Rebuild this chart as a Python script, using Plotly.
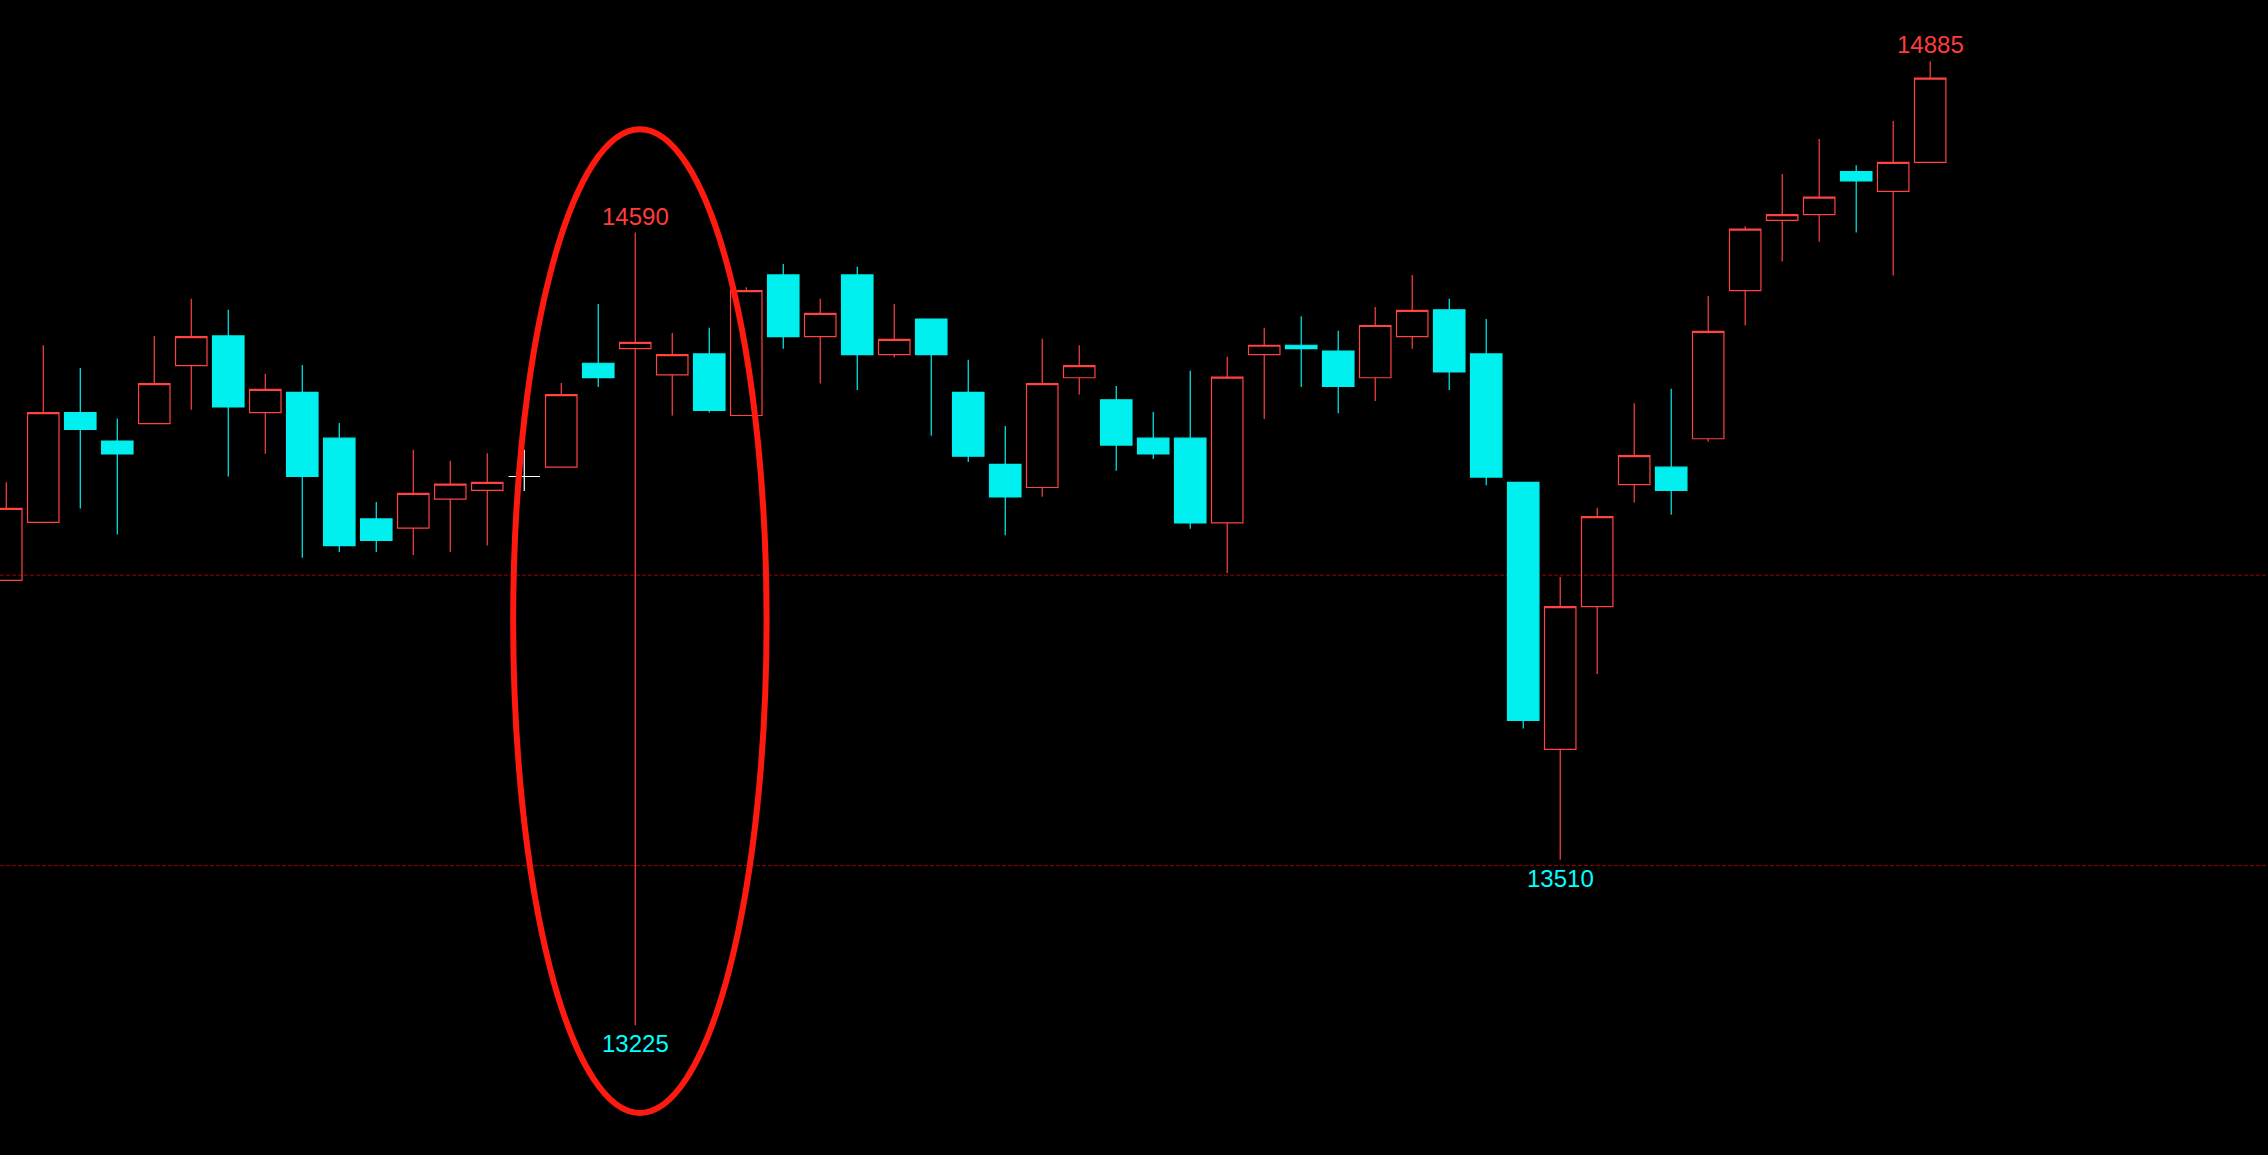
import plotly.graph_objects as go

# daily bars (index = bar position)
opens = [
    13991, 14091, 14280, 14231, 14261, 14361, 14412, 14280, 14315, 14236,
    14097, 14081, 14131, 14146, 14170, 14186, 14365, 14390, 14345, 14381,
    14275, 14517, 14411, 14517, 14380, 14441, 14315, 14191, 14151, 14340,
    14302, 14236, 14236, 14090, 14380, 14396, 14386, 14340, 14411, 14457,
    14381, 14160, 13700, 13946, 14156, 14186, 14235, 14490, 14611, 14621,
    14695, 14661, 14711]
closes = [
    14115, 14280, 14251, 14209, 14330, 14411, 14290, 14320, 14170, 14051,
    14060, 14141, 14157, 14160, 14170, 14311, 14340, 14401, 14380, 14284,
    14490, 14411, 14451, 14380, 14406, 14380, 14205, 14135, 14330, 14361,
    14224, 14209, 14090, 14341, 14396, 14390, 14325, 14430, 14456, 14350,
    14169, 13750, 13946, 14101, 14206, 14146, 14420, 14596, 14621, 14651,
    14679, 14711, 14856]
highs = [
    14160, 14396, 14357, 14270, 14412, 14476, 14457, 14347, 14362, 14262,
    14126, 14216, 14197, 14210, 14216, 14331, 14467, 14590, 14417, 14426,
    14496, 14536, 14476, 14531, 14467, 14441, 14371, 14257, 14407, 14396,
    14326, 14281, 14352, 14376, 14426, 14446, 14421, 14462, 14517, 14476,
    14441, 14160, 13997, 14116, 14296, 14321, 14481, 14601, 14691, 14751,
    14706, 14782, 14885]
lows = [
    13991, 14091, 14115, 14070, 14261, 14285, 14170, 14209, 14030, 14040,
    14040, 14035, 14040, 14051, 14145, 14186, 14324, 13225, 14275, 14280,
    14275, 14390, 14330, 14319, 14375, 14240, 14195, 14069, 14135, 14311,
    14180, 14200, 14080, 14004, 14269, 14324, 14279, 14300, 14390, 14319,
    14155, 13736, 13510, 13830, 14125, 14104, 14230, 14430, 14540, 14574,
    14590, 14516, 14711]

# marked levels and labelled extremes: (bar index, price, at high?)
ref_levels = [14000, 13500]
labels = [(17, 14590, True), (17, 13225, False), (42, 13510, False), (52, 14885, True)]
circled_bar = 17

RED = '#FF4242'
CYAN = '#00F0F0'

idx = list(range(len(opens)))
main = [i for i in idx if opens[i] != closes[i]]
doji = [i for i in idx if opens[i] == closes[i]]

fig = go.Figure()
fig.add_trace(go.Candlestick(
    x=main,
    open=[opens[i] for i in main], high=[highs[i] for i in main],
    low=[lows[i] for i in main], close=[closes[i] for i in main],
    increasing=dict(line=dict(color=RED, width=1.2), fillcolor='rgba(0,0,0,0)'),
    decreasing=dict(line=dict(color=CYAN, width=1.2), fillcolor=CYAN),
    whiskerwidth=0, hoverinfo='skip'))
# flat bars are drawn white
fig.add_trace(go.Candlestick(
    x=doji,
    open=[opens[i] for i in doji], high=[highs[i] for i in doji],
    low=[lows[i] for i in doji], close=[closes[i] for i in doji],
    increasing=dict(line=dict(color='white', width=1.2), fillcolor='white'),
    decreasing=dict(line=dict(color='white', width=1.2), fillcolor='white'),
    whiskerwidth=0, hoverinfo='skip'))

for lv in ref_levels:
    fig.add_shape(type='line', xref='paper', x0=0, x1=1, y0=lv, y1=lv,
                  line=dict(color='#9A0000', width=1, dash='4px,2px'), layer='below')

for i, val, top in labels:
    fig.add_annotation(x=i, y=val, text=str(val), showarrow=False,
                       yanchor='bottom' if top else 'top', yshift=1 if top else -3,
                       font=dict(family='Liberation Sans, Arial', size=24,
                                 color='#FF3C3C' if top else '#00FFFF'))

# big hand-drawn-looking red ring around the spike bar
fig.add_shape(type='circle', x0=circled_bar - 3.3, x1=circled_bar + 3.55,
              y0=13074, y1=14768, line=dict(color='#FF1A0F', width=6))

fig.update_layout(
    width=2268, height=1155,
    margin=dict(l=0, r=0, t=0, b=0),
    paper_bgcolor='black', plot_bgcolor='black',
    showlegend=False, hovermode=False,
    boxmode='overlay', boxgap=0.15, boxgroupgap=0,
    xaxis=dict(range=[-0.17, 61.13], visible=False, rangeslider=dict(visible=False)),
    yaxis=dict(range=[13001.6, 14990.5], visible=False),
)

fig.write_html("out.html", config={'displayModeBar': False},
               post_script="document.body.style.margin='0';document.body.style.overflow='hidden';document.body.style.background='black';")
